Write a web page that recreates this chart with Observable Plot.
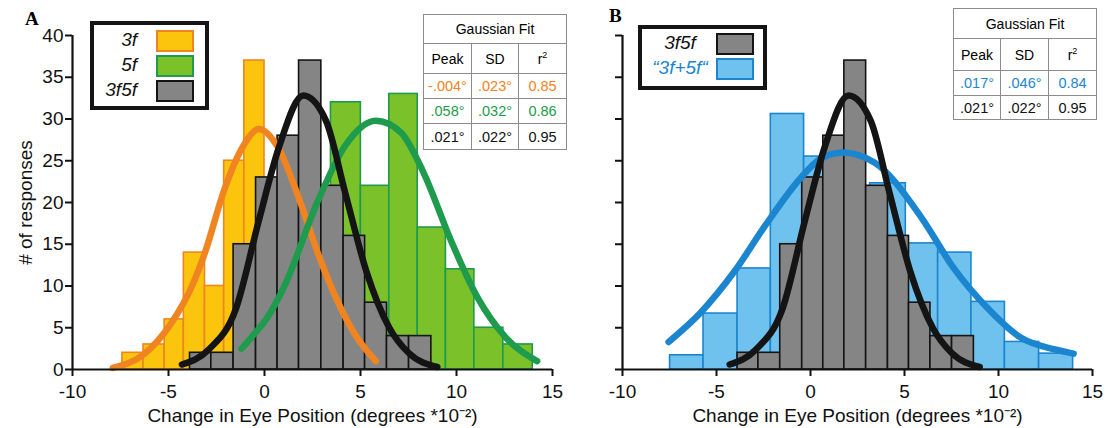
<!DOCTYPE html>
<html><head><meta charset="utf-8">
<script src="https://cdn.jsdelivr.net/npm/d3@7"></script>
<script src="https://cdn.jsdelivr.net/npm/@observablehq/plot@0.6"></script>
<style>
body{margin:0;background:#fff;}
#wrap{position:relative;width:1108px;height:428px;overflow:hidden;font-family:'Liberation Sans',Arial,sans-serif;}
.svgA,.svgB{position:absolute;top:0;}
.letter{position:absolute;font-family:'Liberation Serif','Times New Roman',serif;font-weight:bold;font-size:19px;}
.legend{position:absolute;border:4px solid #151515;box-sizing:border-box;background:#fff;}
.lt{position:absolute;font-style:italic;font-size:19px;line-height:22px;white-space:nowrap;}
.sw{position:absolute;box-sizing:border-box;border:2px solid;}
table.fit{position:absolute;border-collapse:collapse;font-size:14px;background:#fff;table-layout:fixed;}
table.fit td{border:1px solid #8c8c8c;text-align:center;padding:0;}
table.fit td.d{font-size:14.5px;}
sup{font-size:9px;}
</style></head>
<body><div id="wrap"></div>
<script>
// ---------- data ----------
const xTicks = [-10, -5, 0, 5, 10, 15];
const yTicks = [0, 5, 10, 15, 20, 25, 30, 35, 40];

// 3f histogram (visible bins)
const edges3f  = [-7.4, -6.3, -5.2, -4.2, -3.1, -2.1, -1.05, 0];
const counts3f = [2, 3, 6, 14, 10, 25, 37];
// 5f histogram (visible bins)
const edges5f  = [3.46, 5.02, 6.5, 7.98, 9.45, 10.93, 12.44, 13.97];
const counts5f = [32, 22, 33, 17, 12, 5, 3];
// 3f5f histogram
const edges3f5f  = [-3.88, -2.77, -1.61, -0.44, 0.68, 1.8, 2.96, 4.12, 5.24, 6.38, 7.53, 8.69];
const counts3f5f = [2, 2, 15, 23, 28, 37, 22, 16, 8, 4, 4];
// "3f+5f" histogram
const edgesSum  = [-7.47, -5.69, -3.88, -2.11, -0.34, 1.44, 3.17, 5.07, 6.79, 8.56, 10.34, 12.16, 13.97];
const countsSum = [1.7, 6.7, 12.1, 30.6, 25.5, 20, 22.3, 15.1, 14.0, 8.1, 3.3, 1.9];

// Gaussian fit curves
const fit3fX = [-7.9, -6.3, -4.9, -3.7, -3.1, -2.1, -1.1, -0.3, 0.7, 1.9, 2.8, 3.8, 4.8, 5.8];
const fit3fY = [0.2, 1.8, 5.4, 10.4, 14.0, 21.5, 26.8, 28.8, 26.6, 19.8, 13.8, 8.2, 3.9, 1.0];
const fit5fX = [-1.2, -0.7, 0.2, 1.0, 2.8, 4.2, 5.8, 7.1, 8.3, 9.7, 11.1, 12.5, 14.2];
const fit5fY = [2.5, 3.8, 6.4, 9.8, 20.3, 26.8, 29.8, 28.4, 23.5, 15.5, 8.6, 4.0, 1.0];
const fit3f5fX = [-4.3, -2.9, -1.5, -0.3, 0.75, 2.02, 3.2, 4.2, 5.3, 6.5, 7.5, 9.0];
const fit3f5fY = [0.6, 2.4, 7.2, 17.8, 26.6, 32.8, 29.8, 21.2, 11.8, 5.0, 2.0, 0.3];
const fitSumX = [-7.55, -5.85, -4.06, -2.3, -0.5, 0.5, 1.7, 3.4, 5.9, 7.6, 9.4, 11.2, 13.0, 14.0];
const fitSumY = [3.3, 6.8, 11.7, 17.6, 23.0, 25.2, 26.0, 24.8, 18.2, 12.2, 7.4, 3.8, 2.4, 1.9];

const xLabel = "Change in Eye Position (degrees *10\u207B\u00B2)";
const yLabel = "# of responses";

const tableA = {
  head: ["Peak", "SD", "r²"],
  rows: [["-.004°", ".023°", "0.85"], [".058°", ".032°", "0.86"], [".021°", ".022°", "0.95"]],
  colors: ["#ef8420", "#1e9b4c", "#111"]
};
const tableB = {
  head: ["Peak", "SD", "r²"],
  rows: [[".017°", ".046°", "0.84"], [".021°", ".022°", "0.95"]],
  colors: ["#1b86cf", "#111"]
};

// ---------- colours ----------
const C = {
  yellow: "#fbc50d", orange: "#ef8420",
  lgreen: "#7bc12a", dgreen: "#1e9b4c",
  gray: "#858585", black: "#141414",
  lblue: "#6fc1ee", blue: "#1b86cf"
};

const bins = (edges, counts) => counts.map((c, i) => ({x1: edges[i], x2: edges[i + 1], y: c}));
const pts = (xs, ys) => xs.map((x, i) => ({x, y: ys[i]}));

const barMark = (data, fill, stroke) => Plot.rectY(data, {x1: "x1", x2: "x2", y1: 0, y2: "y", fill, stroke, strokeWidth: 1.6});
const curveMark = (data, stroke) => Plot.line(data, {x: "x", y: "y", curve: "monotone-x", stroke, strokeWidth: 6.5, strokeLinecap: "round"});

const style = {fontFamily: "'Liberation Sans', Arial, sans-serif", fontSize: "19px", color: "#111", background: "transparent", overflow: "visible"};
const fmt = d => String(d);

function axes(showY) {
  return [
    Plot.axisX({ticks: xTicks, tickSize: 7, tickPadding: 8, strokeWidth: 2, tickFormat: fmt, label: xLabel, labelAnchor: "center", labelOffset: 52, labelArrow: "none"}),
    showY
      ? Plot.axisY({ticks: yTicks, tickSize: 7, tickPadding: 2, strokeWidth: 2, tickFormat: fmt, label: yLabel, labelAnchor: "center", labelOffset: 54, labelArrow: "none"})
      : Plot.axisY({ticks: yTicks, tickSize: 7, strokeWidth: 2, tickFormat: () => "", label: null}),
    Plot.ruleY([0], {strokeWidth: 2.2, stroke: "#111"}),
    Plot.ruleX([-10], {strokeWidth: 2.2, stroke: "#111"})
  ];
}

const wrap = document.getElementById("wrap");

const A = Plot.plot({
  width: 580, height: 428, marginLeft: 72, marginRight: 28, marginTop: 35, marginBottom: 59,
  x: {domain: [-10, 15]}, y: {domain: [0, 40]}, style,
  marks: [
    barMark(bins(edges3f, counts3f), C.yellow, C.orange),
    barMark(bins(edges5f, counts5f), C.lgreen, C.dgreen),
    barMark(bins(edges3f5f, counts3f5f), C.gray, C.black),
    curveMark(pts(fit3fX, fit3fY), C.orange),
    curveMark(pts(fit5fX, fit5fY), C.dgreen),
    curveMark(pts(fit3f5fX, fit3f5fY), C.black),
    ...axes(true)
  ]
});
A.classList.add("svgA"); A.style.left = "0px";
wrap.appendChild(A);

const B = Plot.plot({
  width: 558, height: 428, marginLeft: 72, marginRight: 16, marginTop: 35, marginBottom: 59,
  x: {domain: [-10, 15]}, y: {domain: [0, 40]}, style,
  marks: [
    barMark(bins(edgesSum, countsSum), C.lblue, C.blue),
    barMark(bins(edges3f5f, counts3f5f), C.gray, C.black),
    curveMark(pts(fitSumX, fitSumY), C.blue),
    curveMark(pts(fit3f5fX, fit3f5fY), C.black),
    ...axes(false)
  ]
});
B.classList.add("svgB"); B.style.left = "550px";
wrap.appendChild(B);

function add(html) { wrap.insertAdjacentHTML("beforeend", html); }

add(`<div class="letter" style="left:25px;top:8px">A</div>`);
add(`<div class="letter" style="left:609px;top:5px">B</div>`);

// legends: align = "right" (text right edge at anchor) or "center"
function legend(left, top, w, h, items, anchor, align, swLeft, rowTops) {
  let s = `<div class="legend" style="left:${left}px;top:${top}px;width:${w}px;height:${h}px">`;
  items.forEach((it, i) => {
    const pos = align === "right"
      ? `right:${left + w - anchor}px;text-align:right;`
      : `left:${anchor - left - 4 - 60}px;width:120px;text-align:center;`;
    s += `<div class="lt" style="${pos}top:${rowTops[i] - top - 5}px;color:${it.tc}">${it.label}</div>`;
    s += `<div class="sw" style="left:${swLeft - left - 4}px;top:${rowTops[i] - top - 4}px;width:38px;height:22px;background:${it.fill};border-color:${it.stroke}"></div>`;
  });
  return s + `</div>`;
}
add(legend(90, 21, 119, 89, [
  {label: "3f", fill: C.yellow, stroke: C.orange, tc: "#111"},
  {label: "5f", fill: C.lgreen, stroke: C.dgreen, tc: "#111"},
  {label: "3f5f", fill: C.gray, stroke: C.black, tc: "#111"}
], 141, "right", 156, [30, 55, 80]));
add(legend(638, 25, 129, 65, [
  {label: "3f5f", fill: C.gray, stroke: C.black, tc: "#111"},
  {label: "\u201C3f+5f\u201C", fill: C.lblue, stroke: C.blue, tc: C.blue}
], 680, "center", 716, [33, 58]));

// tables
function table(left, top, widths, heights, t) {
  let s = `<table class="fit" style="left:${left}px;top:${top}px;width:${widths.reduce((a, b) => a + b, 0)}px">`;
  s += `<colgroup>${widths.map(w => `<col style="width:${w}px">`).join("")}</colgroup>`;
  s += `<tr style="height:${heights[0]}px"><td colspan="3">Gaussian Fit</td></tr>`;
  s += `<tr style="height:${heights[1]}px"><td>${t.head[0]}</td><td>${t.head[1]}</td><td>r<sup>2</sup></td></tr>`;
  t.rows.forEach((r, i) => {
    s += `<tr style="height:${heights[i + 2]}px">${r.map(v => `<td class="d" style="color:${t.colors[i]}">${v}</td>`).join("")}</tr>`;
  });
  return s + `</table>`;
}
add(table(423, 14, [48, 47, 48], [29, 30, 25, 25, 26], tableA));
add(table(953, 8, [47, 48, 48], [30, 32, 25, 24], tableB));
</script>
</body></html>
